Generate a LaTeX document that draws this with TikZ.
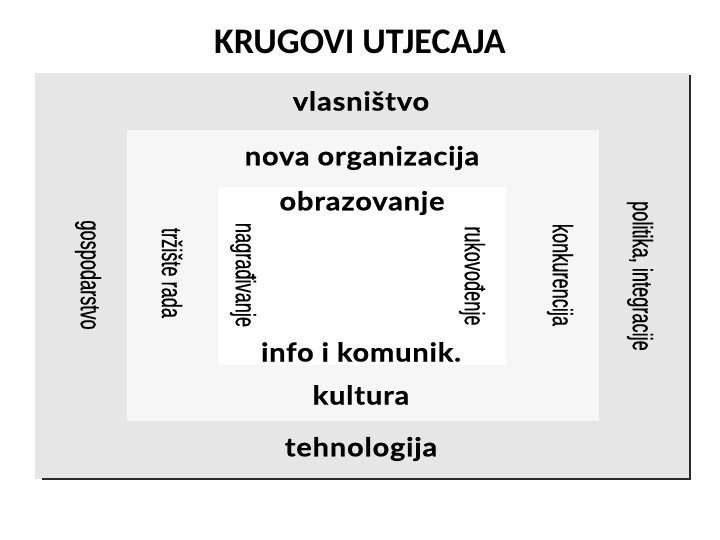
\documentclass[tikz,border=0pt]{standalone}
\usepackage{fontspec}
\setmainfont{Lato}
\newfontfamily\titlefont{Carlito}
\newfontfamily\boldlab[FakeStretch=1.12, LetterSpace=3, FakeBold=0.6]{Lato}
\newfontfamily\condfont[FakeStretch=0.65, FakeBold=0.5]{Liberation Sans}
\definecolor{outergray}{HTML}{E6E6E6}
\definecolor{innergray}{HTML}{F6F6F6}
\definecolor{edgeline}{HTML}{2A2A2A}
\begin{document}
\begin{tikzpicture}[x=1pt,y=-1pt,
  hlab/.style={font=\boldlab\bfseries\fontsize{26}{28}\selectfont, inner sep=0pt, text=black},
  vlab/.style={font=\condfont\fontsize{28}{30}\selectfont, rotate=-90, inner sep=0pt, text=black},
  shadowline/.style={draw=edgeline, line width=2pt}]
\useasboundingbox (0,0) rectangle (720,540);
\fill[white] (0,0) rectangle (720,540);
% boxes
\fill[outergray] (35,73) rectangle (689,479);
\fill[innergray] (127,130) rectangle (599,421);
\fill[white] (218,187) rectangle (506,365);
\coordinate (tr) at (690,75);
\coordinate (br) at (690,479);
\coordinate (bl) at (42,479);
\draw[shadowline] (tr) -- (br) -- (bl);
% title
\node[font=\titlefont\bfseries\fontsize{36}{38}\selectfont, inner sep=0pt] (title) at (360,42) {KRUGOVI UTJECAJA};
% horizontal labels
\node[hlab] (vlas) at (361,101) {vlasništvo};
\node[hlab] (nova) at (362,158) {nova organizacija};
\node[hlab] (obra) at (362,203) {obrazovanje};
\node[hlab] (info) at (361,352) {info i komunik.};
\node[hlab] (kult) at (361,395) {kultura};
\node[hlab] (tehn) at (361,449) {tehnologija};
% vertical labels
\node[vlab] (gosp) at (88,275) {gospodarstvo};
\node[vlab] (trz) at (172,273) {tržište rada};
\node[vlab] (nagr) at (243,275) {nagrađivanje};
\node[vlab] (ruko) at (472,276) {rukovođenje};
\node[vlab] (konk) at (560,275) {konkurencija};
\node[vlab] (poli) at (640,276) {politika, integracije};
\end{tikzpicture}
\end{document}
